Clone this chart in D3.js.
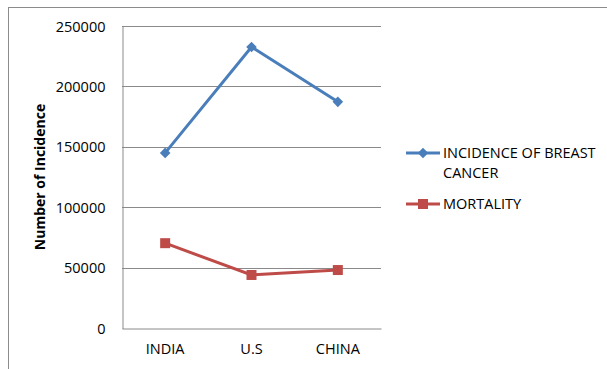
<!DOCTYPE html>
<html>
<head>
<meta charset="utf-8">
<script src="https://cdn.jsdelivr.net/npm/d3@7"></script>
<style>
  html, body { margin: 0; padding: 0; background: #fff; }
  svg { display: block; font-family: "Open Sans", "Liberation Sans", sans-serif; }
</style>
</head>
<body>
<svg id="chart" width="607" height="369"></svg>
<script>
// Breast cancer incidence and mortality by country
const countries = ["INDIA", "U.S", "CHINA"];
const incidence = [144937, 232670, 187213];
const mortality = [70218, 43900, 47984];
const yTicks = [0, 50000, 100000, 150000, 200000, 250000];
const seriesNames = ["INCIDENCE OF BREAST CANCER", "MORTALITY"];
const seriesColors = ["#4A7EBB", "#BE4B48"];

const svg = d3.select("#chart");
const plot = { left: 122, top: 26, right: 381, bottom: 328 };
const fontSize = 14.5;

// outer chart frame (extends past the window on the right and bottom)
svg.append("rect")
  .attr("x", 8.5).attr("y", 7.5)
  .attr("width", 700).attr("height", 400)
  .attr("fill", "none").attr("stroke", "#8c8c8c").attr("stroke-width", 1);

const x = d3.scaleBand().domain(countries).range([plot.left, plot.right]);
const y = d3.scaleLinear().domain([0, 250000]).range([plot.bottom, plot.top]);

// horizontal gridlines
svg.append("g").selectAll("line").data(yTicks.filter(t => t > 0)).join("line")
  .attr("x1", plot.left).attr("x2", plot.right)
  .attr("y1", d => Math.round(y(d)) + 0.5).attr("y2", d => Math.round(y(d)) + 0.5)
  .attr("stroke", "#8a8a8a").attr("stroke-width", 1);

// y axis
const yAxis = svg.append("g")
  .attr("transform", `translate(${plot.left + 0.5},0.5)`)
  .call(d3.axisLeft(y).tickValues(yTicks).tickSize(0).tickPadding(17).tickFormat(d3.format("d")));
yAxis.select(".domain").attr("stroke", "#8a8a8a");
yAxis.selectAll("text").attr("font-size", fontSize).attr("fill", "#000")
  .attr("font-family", "Open Sans, sans-serif");

// x axis
const xAxis = svg.append("g")
  .attr("transform", `translate(0,${plot.bottom + 0.5})`)
  .call(d3.axisBottom(x).tickSize(0).tickPadding(15));
xAxis.select(".domain").attr("stroke", "#8a8a8a");
xAxis.selectAll("text").attr("font-size", fontSize).attr("fill", "#000")
  .attr("font-family", "Open Sans, sans-serif");

// y axis title
svg.append("text")
  .attr("transform", "translate(45,177) rotate(-90)")
  .attr("text-anchor", "middle")
  .attr("font-size", 14).attr("font-weight", "bold")
  .text("Number of Incidence");

const line = d3.line()
  .x((d, i) => x(countries[i]) + x.bandwidth() / 2)
  .y(d => y(d));

// diamond marker = square rotated by 45 degrees
const diamond = d3.symbol().type(d3.symbolSquare).size(56);
const square = d3.symbol().type(d3.symbolSquare).size(100);
const rot = si => (si === 0 ? " rotate(45)" : "");

[incidence, mortality].forEach((vals, si) => {
  svg.append("path").datum(vals)
    .attr("d", line).attr("fill", "none")
    .attr("stroke", seriesColors[si]).attr("stroke-width", 3);
  svg.append("g").selectAll("path").data(vals).join("path")
    .attr("transform", (d, i) => `translate(${x(countries[i]) + x.bandwidth() / 2},${y(d)})` + rot(si))
    .attr("d", si === 0 ? diamond : square)
    .attr("fill", seriesColors[si]);
});

// legend
const legend = svg.append("g");
const legendRows = [
  { y: 153, lines: ["INCIDENCE OF BREAST", "CANCER"], sym: diamond },
  { y: 204, lines: ["MORTALITY"], sym: square }
];
legendRows.forEach((r, i) => {
  legend.append("line")
    .attr("x1", 406).attr("x2", 440).attr("y1", r.y).attr("y2", r.y)
    .attr("stroke", seriesColors[i]).attr("stroke-width", 3);
  legend.append("path")
    .attr("transform", `translate(423,${r.y})` + rot(i))
    .attr("d", r.sym).attr("fill", seriesColors[i]);
  const t = legend.append("text")
    .attr("x", 443).attr("y", r.y + 5)
    .attr("font-size", fontSize).attr("fill", "#000");
  r.lines.forEach((s, k) => {
    t.append("tspan").attr("x", 443).attr("dy", k === 0 ? 0 : 20).text(s);
  });
});
</script>
</body>
</html>
